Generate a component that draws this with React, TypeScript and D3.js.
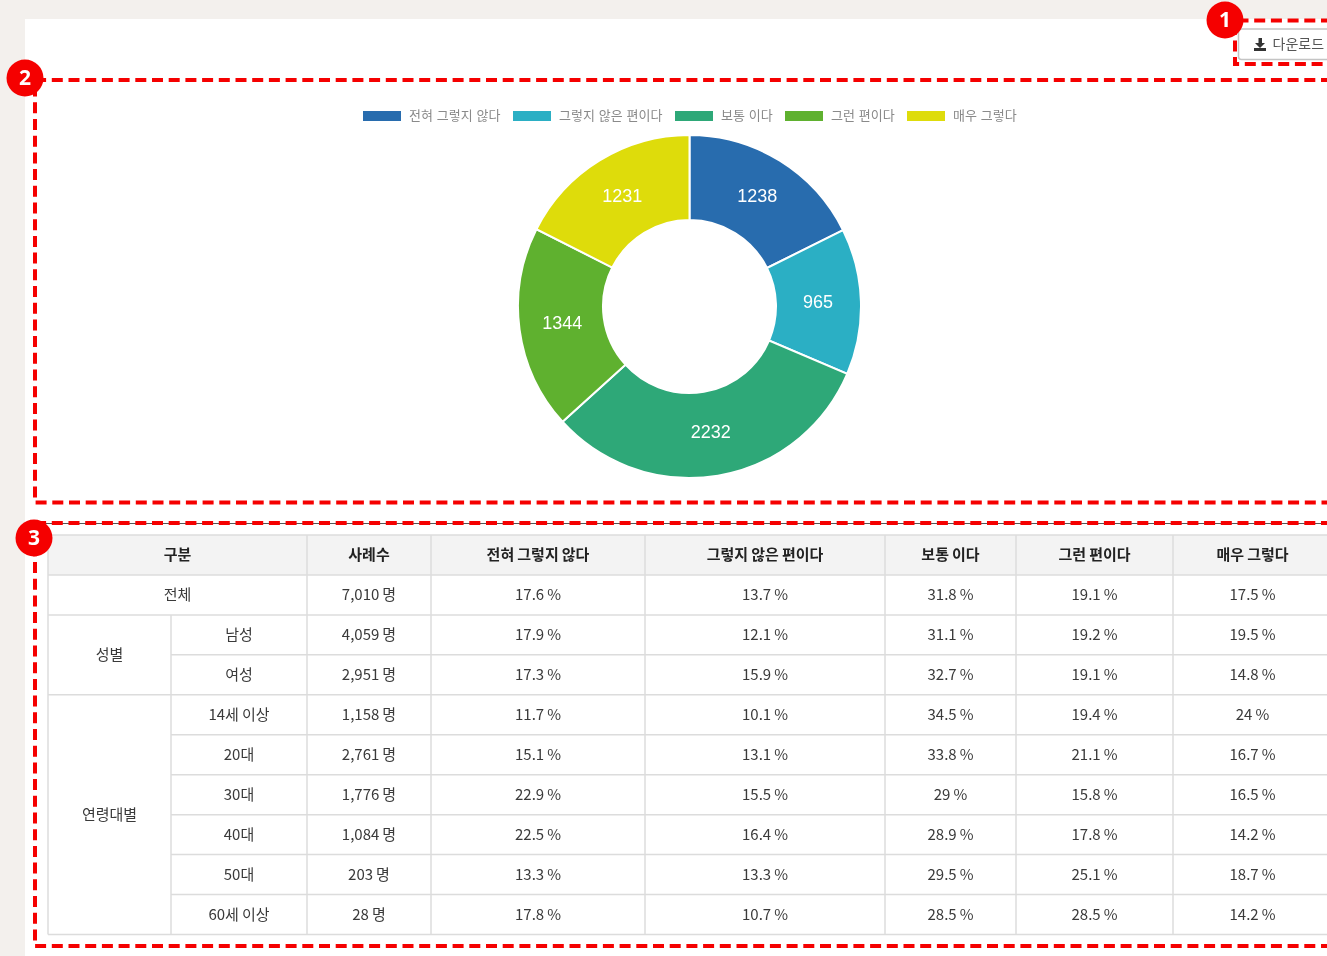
import React from "react";
import * as d3 from "d3";

const FONT = "'Noto Sans CJK KR', 'Noto Sans', sans-serif";
const categories = ["전혀 그렇지 않다", "그렇지 않은 편이다", "보통 이다", "그런 편이다", "매우 그렇다"];
const counts = [1238, 965, 2232, 1344, 1231];
const colors = ["#286cae", "#2bafc4", "#2ea878", "#5fb12f", "#dedc0b"];
const legendSwatchX = [363, 513, 675, 785, 907];

const columnEdges = [48, 171, 307, 431, 645, 885, 1016, 1173, 1332];
const headers = ["구분", "사례수", ...categories];
const groups = [
  { name: "전체", span: 1, whole: true },
  { name: "성별", span: 2, whole: false },
  { name: "연령대별", span: 6, whole: false },
];
const rowNames = ["전체", "남성", "여성", "14세 이상", "20대", "30대", "40대", "50대", "60세 이상"];
const rowCounts = ["7,010 명", "4,059 명", "2,951 명", "1,158 명", "2,761 명", "1,776 명", "1,084 명", "203 명", "28 명"];
const col1 = ["17.6 %", "17.9 %", "17.3 %", "11.7 %", "15.1 %", "22.9 %", "22.5 %", "13.3 %", "17.8 %"];
const col2 = ["13.7 %", "12.1 %", "15.9 %", "10.1 %", "13.1 %", "15.5 %", "16.4 %", "13.3 %", "10.7 %"];
const col3 = ["31.8 %", "31.1 %", "32.7 %", "34.5 %", "33.8 %", "29 %", "28.9 %", "29.5 %", "28.5 %"];
const col4 = ["19.1 %", "19.2 %", "19.1 %", "19.4 %", "21.1 %", "15.8 %", "17.8 %", "25.1 %", "28.5 %"];
const col5 = ["17.5 %", "19.5 %", "14.8 %", "24 %", "16.7 %", "16.5 %", "14.2 %", "18.7 %", "14.2 %"];
const valueColumns = [rowCounts, col1, col2, col3, col4, col5];

const W = 1327, H = 956;
const rowY = d3.scaleLinear().domain([0, 10]).range([535, 934.5]);
const LINE = "#dcdcdc";

function Marker({ x, y, n }: { x: number; y: number; n: string }) {
  return (
    <g>
      <circle cx={x} cy={y} r={18.5} fill="#f50000" />
      <text x={x} y={y + 7} textAnchor="middle" fontSize={21} fontWeight={700} fill="#fff" fontFamily="'Open Sans', sans-serif">{n}</text>
    </g>
  );
}

export default function App() {
  const cx = 689.5, cy = 306.5, rOut = 171.5, rIn = 86.5;
  const pie = d3.pie<number>().sort(null).value((d) => d)(counts);
  const arc = d3.arc<d3.PieArcDatum<number>>().innerRadius(rIn).outerRadius(rOut);
  const labelArc = d3.arc<d3.PieArcDatum<number>>().innerRadius(128.5).outerRadius(128.5);
  const dash = "11 5.7";
  const cell = { fontFamily: FONT, fontSize: 15, fill: "#3a3a3a", textAnchor: "middle" as const, wordSpacing: -0.3 };
  const tableRight = W + 5;

  return (
    <svg width={W} height={H} style={{ position: "absolute", left: 0, top: 0, display: "block", filter: "blur(0.4px)" }}>
      <rect width={W} height={H} fill="#f3f0ed" />
      <rect x={25} y={19} width={W - 25} height={H - 19} fill="#fff" />

      {/* download button */}
      <rect x={1238.5} y={29} width={110} height={30.5} rx={3} fill="#fff" stroke="#c4c4c4" strokeWidth={1.5} />
      <path d="M1258.5 38h3.5v5h3l-5 5-5-5h3.500zM1254 48h12v3h-12z" fill="#333" />
      <text x={1272.500} y={49} fontFamily={FONT} fontSize={14} fill="#555">다운로드</text>

      {/* legend */}
      {categories.map((c, i) => (
        <g key={c}>
          <rect x={legendSwatchX[i]} y={111} width={38} height={10} fill={colors[i]} />
          <text x={legendSwatchX[i] + 46} y={119.5} fontFamily={FONT} fontSize={13} wordSpacing={1} fill="#8a8a8a">{c}</text>
        </g>
      ))}

      {/* donut */}
      <g transform={`translate(${cx},${cy})`}>
        {pie.map((d, i) => (
          <path key={i} d={arc(d) || ""} fill={colors[i]} stroke="#fff" strokeWidth={2} />
        ))}
        {pie.map((d, i) => {
          const [x, y] = labelArc.centroid(d);
          return (
            <text key={i} x={x} y={y + 5} textAnchor="middle" fontFamily="'Liberation Sans', Arial, sans-serif" fontSize={18} fill="#fff">{d.data}</text>
          );
        })}
      </g>

      {/* table */}
      <rect x={columnEdges[0]} y={rowY(0)} width={tableRight - columnEdges[0]} height={rowY(1) - rowY(0)} fill="#f3f3f3" />
      {d3.range(0, 11).map((r) => {
        const x0 = (r >= 3 && r !== 4 && r < 10) ? columnEdges[1] : columnEdges[0];
        return <line key={r} x1={x0} x2={tableRight} y1={rowY(r)} y2={rowY(r)} stroke={LINE} strokeWidth={1.5} />;
      })}
      {columnEdges.slice(0, -1).map((x, i) => {
        if (i === 1) return <line key={i} x1={x} x2={x} y1={rowY(2)} y2={rowY(10)} stroke={LINE} strokeWidth={1.5} />;
        return <line key={i} x1={x} x2={x} y1={rowY(0)} y2={rowY(10)} stroke={LINE} strokeWidth={1.5} />;
      })}

      {headers.map((h, i) => {
        const a = i === 0 ? columnEdges[0] : columnEdges[i + 1];
        const b = columnEdges[i + 2];
        return (
          <text key={h} {...cell} x={(a + b) / 2} y={rowY(0.5) + 5.5} fontWeight={700} fill="#222">{h}</text>
        );
      })}

      {groups.reduce<{ start: number; els: React.ReactNode[] }>((acc, g) => {
        const mid = acc.start + g.span / 2;
        const x = g.whole ? (columnEdges[0] + columnEdges[2]) / 2 : (columnEdges[0] + columnEdges[1]) / 2;
        acc.els.push(<text key={g.name} {...cell} x={x} y={rowY(mid) + 5.5}>{g.name}</text>);
        acc.start += g.span;
        return acc;
      }, { start: 1, els: [] }).els}

      {rowNames.map((name, r) =>
        r === 0 ? null : (
          <text key={name} {...cell} x={(columnEdges[1] + columnEdges[2]) / 2} y={rowY(r + 1.5) + 5.5}>{name}</text>
        )
      )}
      {valueColumns.map((col, c) =>
        col.map((v, r) => (
          <text key={`${c}-${r}`} {...cell} x={(columnEdges[c + 2] + columnEdges[c + 3]) / 2} y={rowY(r + 1.5) + 5.5}>{v}</text>
        ))
      )}

      {/* annotation boxes */}
      <line x1={35} x2={W} y1={523.5} y2={523.5} stroke="#555" strokeWidth={1} />
      <g fill="none" stroke="#f50000" strokeWidth={4} strokeDasharray={dash}>
        <path d={`M${W + 5} 20.5H1235V64H${W + 5}`} />
        <path d={`M${W + 5} 80H35V502.5H${W + 5}`} />
        <path d={`M${W + 5} 523H35V946H${W + 5}`} />
      </g>
      <Marker x={1225} y={20} n="1" />
      <Marker x={25} y={78} n="2" />
      <Marker x={34} y={538} n="3" />
    </svg>
  );
}
